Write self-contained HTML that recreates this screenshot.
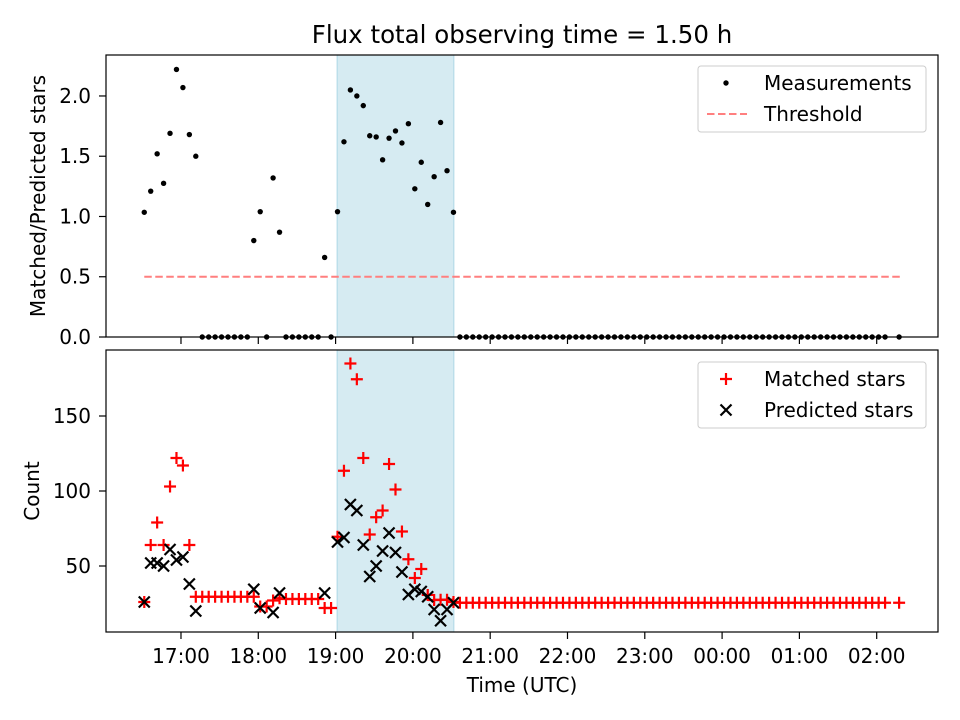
<!DOCTYPE html>
<html><head><meta charset="utf-8"><style>
body{margin:0;background:#fff}
svg{display:block;font-family:"DejaVu Sans","Liberation Sans",sans-serif}
</style></head><body>
<svg id="c" width="960" height="720"></svg>
<script>
const ratioValues=[1.035,1.21,1.52,1.275,1.69,2.22,2.07,1.68,1.50,0,0,0,0,0,0,0,0,0.80,1.04,0,1.32,0.87,0,0,0,0,0,0,0.66,0,1.04,1.62,2.05,2.0,1.92,1.67,1.66,1.47,1.65,1.71,1.61,1.77,1.23,1.45,1.10,1.33,1.78,1.38,1.035,
0,0,0,0,0,0,0,0,0,0,0,0,0,0,0,0,0,0,0,0,0,0,0,0,0,0,0,0,0,0,0,0,0,0,0,0,0,0,0,0,0,0,0,0,0,0,0,0,0,0,0,0,0,0,0,0,0,0,0,0,0,0,0,0,0,0,0,0];
const matchedValues=[26,64,79,64,103,122,117,64,29.5,29.5,29.5,29.5,29.5,29.5,29.5,29.5,29.5,29.5,23,23,27,28.5,28,28,28,28,28,28,22,22,69.5,113.5,185,174.5,122,71,82.5,87,118,101,73,54.5,42,48,30.7,27.3,27.5,27.5,26,
25.5,25.5,25.5,25.5,25.5,25.5,25.5,25.5,25.5,25.5,25.5,25.5,25.5,25.5,25.5,25.5,25.5,25.5,25.5,25.5,25.5,25.5,25.5,25.5,25.5,25.5,25.5,25.5,25.5,25.5,25.5,25.5,25.5,25.5,25.5,25.5,25.5,25.5,25.5,25.5,25.5,25.5,25.5,25.5,25.5,25.5,25.5,25.5,25.5,25.5,25.5,25.5,25.5,25.5,25.5,25.5,25.5,25.5,25.5,25.5,25.5,25.5,25.5,25.5,25.5,25.5,25.5,25.5];
const predictedValues=[26,52,52,50,61,54,56,38,20,null,null,null,null,null,null,null,null,34.5,22,null,19,32,null,null,null,null,null,null,32,null,66,69,91,87,64,43,50,60,72,59,46,31,34.5,33,29.5,21,13.5,21,25.5];
const xTickLabels=["17:00","18:00","19:00","20:00","21:00","22:00","23:00","00:00","01:00","02:00"];
const xTickHours=[17,18,19,20,21,22,23,24,25,26];
const yTopTicks=[0,0.5,1.0,1.5,2.0];
const yBotTicks=[50,100,150];
const threshold=0.5;
const spanStart=19.02, spanEnd=20.53;
const startHour=16.525, stepHours=5/60, lastHour=26.29;
const hours=[];
for(let i=0;i<ratioValues.length;i++) hours.push(i<ratioValues.length-1?startHour+i*stepHours:lastHour);

const NS="http://www.w3.org/2000/svg";
const svg=document.getElementById('c');
function mk(t,a,p){const e=document.createElementNS(NS,t);for(const k in a)e.setAttribute(k,a[k]);(p||svg).appendChild(e);return e;}
const L=106,R=938,T1=55,B1=337,T2=350,B2=632;
const X0=16.030,X1=26.793;
const FS=20, TL=7;
const x=h=>L+(h-X0)/(X1-X0)*(R-L);
const yT=v=>B1-(v-0)/(2.34-0)*(B1-T1);
const yB=v=>B2-(v-6)/(194-6)*(B2-T2);

let t=mk('text',{x:522,y:43,'text-anchor':'middle','font-size':24.5});t.textContent="Flux total observing time = 1.50 h";


function axesFrame(top,bot,name){
  const g=mk('g',{});
  const s=mk('rect',{x:x(spanStart),y:top,width:x(spanEnd)-x(spanStart),height:bot-top,fill:'#add8e6','fill-opacity':0.5,stroke:'#add8e6','stroke-width':1},g);
  
  return g;
}
function frame(top,bot,g){mk('rect',{x:L,y:top,width:R-L,height:bot-top,fill:'none',stroke:'#000','stroke-width':1.2},g);}

// top axes
const g1=axesFrame(T1,B1,'top-axes');
const th=mk('line',{x1:x(hours[0]),x2:x(lastHour+0.03),y1:yT(threshold),y2:yT(threshold),stroke:'#ff7f7f','stroke-width':2,'stroke-dasharray':'7.5,3.5'},g1);

ratioValues.forEach((v,i)=>{const c=mk('circle',{cx:x(hours[i]),cy:yT(v),r:2.7,fill:'#000'},g1);
});
frame(T1,B1,g1);
yTopTicks.forEach(v=>{mk('line',{x1:L-TL,x2:L,y1:yT(v),y2:yT(v),stroke:'#000','stroke-width':1.2},g1);
const tx=mk('text',{x:L-15,y:yT(v)+7,'text-anchor':'end','font-size':FS},g1);tx.textContent=v.toFixed(1);
});
xTickHours.forEach(h=>mk('line',{x1:x(h),x2:x(h),y1:B1,y2:B1+TL,stroke:'#000','stroke-width':1.2},g1));
t=mk('text',{x:0,y:0,'text-anchor':'middle','font-size':FS,transform:`translate(45,${(T1+B1)/2}) rotate(-90)`});t.textContent="Matched/Predicted stars";


// bottom axes
const g2=axesFrame(T2,B2,'bottom-axes');
const clip=mk('clipPath',{id:'cb'});mk('rect',{x:L,y:T2,width:R-L,height:B2-T2},clip);
const pg=mk('g',{'clip-path':'url(#cb)'},g2);
matchedValues.forEach((v,i)=>{const cx=x(hours[i]),cy=yB(v);
const p=mk('path',{d:`M${cx-6} ${cy}H${cx+6}M${cx} ${cy-6}V${cy+6}`,stroke:'#ff0000','stroke-width':2.2},pg);
});
predictedValues.forEach((v,i)=>{if(v==null)return;const cx=x(hours[i]),cy=yB(v),d=5.5;
const p=mk('path',{d:`M${cx-d} ${cy-d}L${cx+d} ${cy+d}M${cx-d} ${cy+d}L${cx+d} ${cy-d}`,stroke:'#000','stroke-width':2.2},pg);
});
frame(T2,B2,g2);
yBotTicks.forEach(v=>{mk('line',{x1:L-TL,x2:L,y1:yB(v),y2:yB(v),stroke:'#000','stroke-width':1.2},g2);
const tx=mk('text',{x:L-15,y:yB(v)+7,'text-anchor':'end','font-size':FS},g2);tx.textContent=v;
});
xTickHours.forEach((h,i)=>{mk('line',{x1:x(h),x2:x(h),y1:B2,y2:B2+TL,stroke:'#000','stroke-width':1.2},g2);
const tx=mk('text',{x:x(h),y:B2+31,'text-anchor':'middle','font-size':FS},g2);tx.textContent=xTickLabels[i];
});
t=mk('text',{x:0,y:0,'text-anchor':'middle','font-size':FS,transform:`translate(39,${(T2+B2)/2}) rotate(-90)`});t.textContent="Count";

t=mk('text',{x:522,y:692,'text-anchor':'middle','font-size':FS});t.textContent="Time (UTC)";


// legends
function legend(y0,name,items){
  const g=mk('g',{});
  mk('rect',{x:698,y:y0,width:228,height:66,rx:3,fill:'#fff','fill-opacity':0.8,stroke:'#ccc'},g);
  items.forEach((it,k)=>{const cy=y0+17+k*31,cx=726;it.m(g,cx,cy);
  const tx=mk('text',{x:764,y:cy+7,'font-size':FS},g);tx.textContent=it.l;
  });
}
legend(66,'top-legend',[
 {l:'Measurements',m:(g,cx,cy)=>mk('circle',{cx,cy,r:2.7,fill:'#000'},g)},
 {l:'Threshold',m:(g,cx,cy)=>mk('line',{x1:cx-19,x2:cx+21,y1:cy,y2:cy,stroke:'#ff7f7f','stroke-width':2,'stroke-dasharray':'7.5,3.5'},g)}]);
legend(362,'bottom-legend',[
 {l:'Matched stars',m:(g,cx,cy)=>mk('path',{d:`M${cx-6} ${cy}H${cx+6}M${cx} ${cy-6}V${cy+6}`,stroke:'#f00','stroke-width':2.2},g)},
 {l:'Predicted stars',m:(g,cx,cy)=>mk('path',{d:`M${cx-5.5} ${cy-5.5}L${cx+5.5} ${cy+5.5}M${cx-5.5} ${cy+5.5}L${cx+5.5} ${cy-5.5}`,stroke:'#000','stroke-width':2.2},g)}]);
</script>
</body></html>
